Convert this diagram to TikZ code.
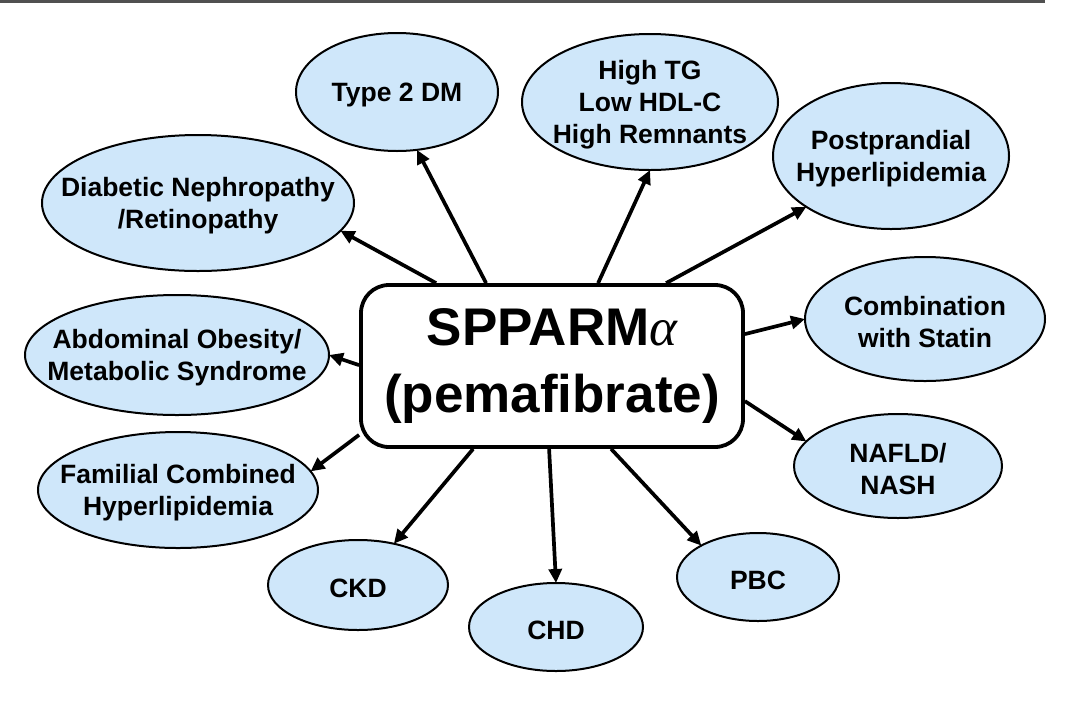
\documentclass[tikz,border=0pt]{standalone}
\usepackage{fontspec}
\setmainfont{Liberation Sans}
\newfontfamily\greekserif{Liberation Serif}
\usetikzlibrary{shapes.geometric,arrows.meta,backgrounds}
\definecolor{ellfill}{RGB}{207,231,250}
\definecolor{rulegray}{RGB}{80,80,80}
\begin{document}
\begin{tikzpicture}[x=1pt,y=-1pt,
  ell/.style={ellipse,draw=black,line width=2pt,fill=ellfill,inner sep=0pt,outer sep=0pt},
  etext/.style={align=center,font=\fontsize{26.5}{32}\selectfont\bfseries,inner sep=0pt,yshift=-3pt},
  conn/.style={line width=3.7pt,-{Triangle[length=14pt,width=13pt]}},
  hub/.style={draw=black,line width=3.8pt,rounded corners=28pt,fill=white,
    minimum width=382pt,minimum height=162pt,align=center,
    font=\fontsize{53}{67}\selectfont\bfseries,inner sep=0pt}]
\useasboundingbox (0,0) rectangle (1075,710);
\draw[line width=2.5pt,rulegray] (0,1.25) -- (1045,1.25);

% hub
\node[hub] (hubbox) at (552,366) {SPPARM{\greekserif\mdseries\itshape α}\\(pemafibrate)};

% ellipses
\node[ell,minimum width=202pt,minimum height=118pt] (t2dm) at (397,92) {};
\node[ell,minimum width=256pt,minimum height=136pt] (htg) at (650,102) {};
\node[ell,minimum width=236pt,minimum height=146pt] (ppl) at (891,156) {};
\node[ell,minimum width=312pt,minimum height=136pt] (dnr) at (198,203) {};
\node[ell,minimum width=240pt,minimum height=124pt] (comb) at (925,319) {};
\node[ell,minimum width=304pt,minimum height=120pt] (abd) at (177,355) {};
\node[ell,minimum width=208pt,minimum height=104pt] (naf) at (898,466) {};
\node[ell,minimum width=280pt,minimum height=116pt] (fch) at (178,490) {};
\node[ell,minimum width=180pt,minimum height=90pt] (ckd) at (358,585) {};
\node[ell,minimum width=174pt,minimum height=88pt] (chd) at (556,627) {};
\node[ell,minimum width=162pt,minimum height=88pt] (pbc) at (758,577) {};

% texts
\node[etext] (t2dm-t) at (t2dm) {Type 2 DM};
\node[etext] (htg-t) at (htg) {High TG\\Low HDL-C\\High Remnants};
\node[etext] (ppl-t) at (ppl) {Postprandial\\Hyperlipidemia};
\node[etext] (dnr-t) at (dnr) {Diabetic Nephropathy\\/Retinopathy};
\node[etext] (comb-t) at (comb) {Combination\\with Statin};
\node[etext] (abd-t) at (abd) {Abdominal Obesity/\\Metabolic Syndrome};
\node[etext] (naf-t) at (naf) {NAFLD/\\NASH};
\node[etext] (fch-t) at (fch) {Familial Combined\\Hyperlipidemia};
\node[etext] (ckd-t) at (ckd) {CKD};
\node[etext] (chd-t) at (chd) {CHD};
\node[etext] (pbc-t) at (pbc) {PBC};

% connectors
\begin{scope}[on background layer]
\draw[conn] ([xshift=77pt]hubbox.north west) -- (dnr.-11.5);
\draw[conn] ([xshift=127pt]hubbox.north west) -- (t2dm.-71);
\draw[conn] ([xshift=239pt]hubbox.north west) -- (htg.-90);
\draw[conn] ([xshift=307pt]hubbox.north west) -- (ppl.-149);
\draw[conn] ([yshift=-51pt]hubbox.north east) -- (comb.180);
\draw[conn] ([yshift=-118pt]hubbox.north east) -- (naf.165.5);
\draw[conn] ([xshift=252pt]hubbox.south west) -- (pbc.151);
\draw[conn] ([xshift=190pt]hubbox.south west) -- (chd.90);
\draw[conn] ([xshift=114pt]hubbox.south west) -- (ckd.49);
\draw[conn] ([yshift=14pt]hubbox.south west) -- (fch.8);
\draw[conn] ([yshift=-82pt]hubbox.north west) -- (abd.0);
\end{scope}
\end{tikzpicture}
\end{document}
